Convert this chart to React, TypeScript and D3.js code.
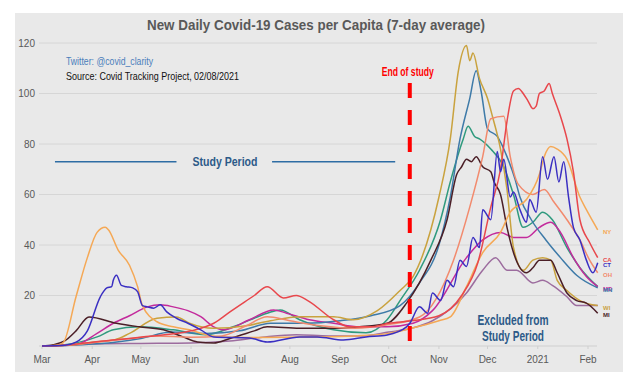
import React from "react";
import * as d3 from "d3";

const W = 640;
const H = 389;

const title = "New Daily Covid-19 Cases per Capita (7-day average)";
const yTicks = [20, 40, 60, 80, 100, 120];
const studyEnd = "2020-10-14";

// values (cases per 100k, 7-day avg)
const ny: [string, number][] = [
  ["2020-03-01", 0], ["2020-03-10", 0.3], ["2020-03-14", 1.2], ["2020-03-22", 19.5], ["2020-03-29", 35],
  ["2020-04-04", 45], ["2020-04-09", 47], ["2020-04-11", 46], ["2020-04-17", 38], ["2020-04-24", 32],
  ["2020-04-29", 23.5], ["2020-05-02", 16], ["2020-05-11", 9.6], ["2020-05-21", 7.6], ["2020-05-31", 6.4],
  ["2020-06-11", 4.4], ["2020-06-21", 3.6], ["2020-07-10", 3.4], ["2020-08-01", 3.5], ["2020-08-20", 3.6],
  ["2020-09-10", 4], ["2020-10-01", 5], ["2020-10-15", 7], ["2020-11-01", 10], ["2020-11-08", 11.5],
  ["2020-11-18", 23.5], ["2020-11-28", 37], ["2020-12-09", 45], ["2020-12-15", 53], ["2020-12-25", 58],
  ["2021-01-02", 68], ["2021-01-05", 75], ["2021-01-09", 79], ["2021-01-13", 78], ["2021-01-19", 74],
  ["2021-01-27", 59], ["2021-01-31", 54], ["2021-02-07", 46],
];
const ca: [string, number][] = [
  ["2020-03-01", 0], ["2020-03-15", 0.3], ["2020-04-01", 1.5], ["2020-05-01", 3.5], ["2020-06-01", 6],
  ["2020-06-15", 9], ["2020-06-25", 13.5], ["2020-07-10", 20], ["2020-07-18", 23.5], ["2020-07-28", 19],
  ["2020-08-05", 20], ["2020-08-12", 18], ["2020-08-28", 10.4], ["2020-09-07", 7.6], ["2020-09-20", 7.6],
  ["2020-10-01", 9], ["2020-10-15", 10], ["2020-11-01", 12], ["2020-11-15", 20], ["2020-11-25", 33],
  ["2020-12-03", 55], ["2020-12-09", 70], ["2020-12-13", 89], ["2020-12-17", 101], ["2020-12-20", 102],
  ["2020-12-23", 100], ["2020-12-26", 97], ["2020-12-29", 94], ["2020-12-31", 95], ["2021-01-02", 100],
  ["2021-01-05", 101], ["2021-01-08", 104], ["2021-01-10", 100], ["2021-01-15", 91], ["2021-01-19", 82],
  ["2021-01-23", 69], ["2021-01-27", 50], ["2021-02-02", 41], ["2021-02-07", 35],
];
const ct: [string, number][] = [
  ["2020-03-01", 0], ["2020-03-15", 0.3], ["2020-03-22", 1.5], ["2020-03-29", 6], ["2020-04-06", 19.5],
  ["2020-04-10", 23], ["2020-04-13", 23.5], ["2020-04-14", 26], ["2020-04-16", 28], ["2020-04-19", 24],
  ["2020-04-22", 23.5], ["2020-04-26", 23], ["2020-04-29", 21.5], ["2020-05-02", 16], ["2020-05-05", 15.5],
  ["2020-05-09", 15], ["2020-05-13", 16.3], ["2020-05-17", 13.5], ["2020-05-23", 11], ["2020-05-30", 9],
  ["2020-06-07", 6.4], ["2020-06-15", 3.6], ["2020-07-07", 3.2], ["2020-07-18", 1.6], ["2020-08-07", 3.6],
  ["2020-08-18", 3.6], ["2020-09-03", 2.4], ["2020-09-17", 3.6], ["2020-09-30", 4.4], ["2020-10-12", 7.6],
  ["2020-10-14", 9], ["2020-10-20", 15.5], ["2020-10-25", 13], ["2020-10-28", 21], ["2020-11-02", 18],
  ["2020-11-06", 26], ["2020-11-10", 23.5], ["2020-11-14", 34], ["2020-11-18", 31.5], ["2020-11-22", 43],
  ["2020-11-26", 39], ["2020-11-28", 54], ["2020-12-03", 50], ["2020-12-07", 77], ["2020-12-09", 69],
  ["2020-12-11", 74], ["2020-12-15", 59], ["2020-12-17", 61], ["2020-12-21", 54], ["2020-12-25", 49],
  ["2020-12-27", 58], ["2020-12-31", 53], ["2021-01-04", 75], ["2021-01-07", 66], ["2021-01-11", 75],
  ["2021-01-14", 65], ["2021-01-17", 73], ["2021-01-20", 59], ["2021-01-23", 47], ["2021-01-27", 42],
  ["2021-01-31", 34], ["2021-02-04", 29], ["2021-02-07", 33],
];
const oh: [string, number][] = [
  ["2020-03-01", 0], ["2020-03-20", 0.5], ["2020-04-10", 2], ["2020-04-25", 3], ["2020-05-10", 4],
  ["2020-06-01", 3.5], ["2020-06-20", 4], ["2020-07-05", 8], ["2020-07-18", 11.6], ["2020-08-01", 10],
  ["2020-08-20", 8], ["2020-09-10", 7], ["2020-10-01", 8.5], ["2020-10-20", 11.5], ["2020-11-10", 34],
  ["2020-11-20", 55], ["2020-11-28", 75], ["2020-12-03", 90], ["2020-12-11", 91], ["2020-12-15", 75],
  ["2020-12-20", 64], ["2020-12-29", 60], ["2021-01-05", 62], ["2021-01-11", 57], ["2021-01-19", 50],
  ["2021-01-27", 42], ["2021-02-02", 34], ["2021-02-07", 29],
];
const mn: [string, number][] = [
  ["2020-03-01", 0], ["2020-03-25", 0.5], ["2020-04-15", 1.5], ["2020-05-01", 3], ["2020-05-20", 5.5],
  ["2020-06-10", 5], ["2020-07-01", 6], ["2020-07-20", 9], ["2020-08-10", 9], ["2020-09-01", 10],
  ["2020-09-20", 12], ["2020-10-08", 16], ["2020-10-20", 25], ["2020-11-01", 40], ["2020-11-08", 59],
  ["2020-11-14", 82], ["2020-11-20", 98], ["2020-11-24", 109], ["2020-11-27", 101], ["2020-12-01", 86],
  ["2020-12-07", 83], ["2020-12-13", 75], ["2020-12-18", 66], ["2020-12-21", 59], ["2020-12-28", 50],
  ["2021-01-06", 42], ["2021-01-15", 35], ["2021-01-25", 28], ["2021-02-07", 23],
];
const il: [string, number][] = [
  ["2020-03-01", 0], ["2020-03-15", 0.5], ["2020-04-04", 3.6], ["2020-04-14", 6.4], ["2020-04-30", 7.6],
  ["2020-05-21", 6.4], ["2020-06-10", 4.5], ["2020-06-27", 7.6], ["2020-07-18", 13], ["2020-07-26", 14.3],
  ["2020-08-07", 10.4], ["2020-08-28", 6.4], ["2020-09-17", 5.2], ["2020-09-30", 10.4], ["2020-10-08", 18],
  ["2020-10-20", 30], ["2020-11-02", 50], ["2020-11-08", 65], ["2020-11-16", 82], ["2020-11-19", 87],
  ["2020-11-23", 83], ["2020-11-26", 82], ["2020-12-03", 78], ["2020-12-11", 71], ["2020-12-17", 60],
  ["2020-12-23", 47], ["2020-12-29", 49], ["2021-01-04", 53], ["2021-01-10", 50], ["2021-01-19", 39],
  ["2021-01-27", 31], ["2021-02-07", 23.5],
];
const md: [string, number][] = [
  ["2020-03-01", 0], ["2020-03-22", 0.5], ["2020-04-04", 5], ["2020-04-14", 9], ["2020-04-24", 12],
  ["2020-05-05", 15.5], ["2020-05-13", 16.3], ["2020-05-21", 15.5], ["2020-05-30", 14], ["2020-06-07", 11.6],
  ["2020-06-15", 7.6], ["2020-06-21", 6.4], ["2020-07-07", 10.4], ["2020-07-22", 14.3], ["2020-07-30", 13],
  ["2020-08-13", 10.4], ["2020-08-28", 9], ["2020-09-13", 7.6], ["2020-09-30", 7.6], ["2020-10-16", 9],
  ["2020-10-28", 14], ["2020-11-18", 35], ["2020-11-28", 42], ["2020-12-09", 45], ["2020-12-17", 43],
  ["2020-12-25", 43], ["2021-01-02", 47], ["2021-01-09", 49], ["2021-01-15", 45], ["2021-01-23", 35],
  ["2021-01-31", 27.5], ["2021-02-07", 23.5],
];
const wi: [string, number][] = [
  ["2020-03-01", 0], ["2020-03-20", 0.5], ["2020-04-01", 1.5], ["2020-04-15", 2.5], ["2020-04-24", 5],
  ["2020-05-11", 11], ["2020-05-23", 11.5], ["2020-05-31", 9], ["2020-06-15", 7], ["2020-07-05", 8],
  ["2020-07-20", 10], ["2020-08-07", 11.6], ["2020-08-28", 11.6], ["2020-09-09", 10.4], ["2020-09-24", 14],
  ["2020-10-08", 22], ["2020-10-16", 27.5], ["2020-11-01", 59], ["2020-11-08", 82], ["2020-11-13", 109],
  ["2020-11-18", 119], ["2020-11-20", 113], ["2020-11-22", 116], ["2020-11-26", 106], ["2020-12-01", 98],
  ["2020-12-04", 91], ["2020-12-09", 78], ["2020-12-13", 62], ["2020-12-17", 39], ["2020-12-23", 30],
  ["2020-12-29", 34], ["2021-01-04", 35], ["2021-01-09", 34], ["2021-01-13", 26], ["2021-01-19", 22],
  ["2021-01-27", 18], ["2021-02-07", 16],
];
const mi: [string, number][] = [
  ["2020-03-01", 0], ["2020-03-08", 0.5], ["2020-03-15", 2], ["2020-03-22", 6], ["2020-03-30", 11.5],
  ["2020-04-16", 9], ["2020-04-30", 7.6], ["2020-05-15", 6.4], ["2020-05-27", 3.6], ["2020-06-05", 1.6],
  ["2020-06-15", 1.2], ["2020-06-25", 3], ["2020-07-10", 6], ["2020-07-18", 7.6], ["2020-08-07", 7],
  ["2020-08-28", 7], ["2020-09-13", 7.6], ["2020-09-30", 9], ["2020-10-12", 17], ["2020-10-27", 34],
  ["2020-11-06", 50], ["2020-11-12", 68], ["2020-11-15", 71], ["2020-11-18", 74], ["2020-11-21", 73],
  ["2020-11-24", 75], ["2020-11-28", 71], ["2020-12-03", 69], ["2020-12-05", 65], ["2020-12-09", 60],
  ["2020-12-13", 47], ["2020-12-17", 37], ["2020-12-25", 29], ["2020-12-29", 31], ["2021-01-02", 34],
  ["2021-01-09", 34], ["2021-01-13", 29], ["2021-01-19", 21], ["2021-01-25", 18], ["2021-01-31", 17],
  ["2021-02-07", 13],
];
const wa: [string, number][] = [
  ["2020-03-01", 0], ["2020-04-01", 0.8], ["2020-05-01", 1], ["2020-06-01", 1.2], ["2020-06-25", 2],
  ["2020-07-15", 3.5], ["2020-08-05", 4.5], ["2020-08-25", 4], ["2020-09-15", 4], ["2020-10-01", 5.5],
  ["2020-10-15", 7], ["2020-10-28", 10], ["2020-11-18", 21], ["2020-11-28", 30], ["2020-12-06", 35],
  ["2020-12-13", 30], ["2020-12-19", 30], ["2020-12-29", 25], ["2021-01-04", 26], ["2021-01-10", 24],
  ["2021-01-19", 19.5], ["2021-01-25", 16], ["2021-02-07", 16],
];

// drawing order: first is at the back
const series = [
  { name: "WA", color: "#9c6c9e", values: wa, label: false },
  { name: "IL", color: "#2f9a7e", values: il, label: false },
  { name: "MD", color: "#c32a9c", values: md, label: true },
  { name: "MN", color: "#3e7aa8", values: mn, label: true },
  { name: "WI", color: "#c9a23e", values: wi, label: true },
  { name: "MI", color: "#4b1f27", values: mi, label: true },
  { name: "OH", color: "#f28a6d", values: oh, label: true },
  { name: "NY", color: "#f5a855", values: ny, label: true },
  { name: "CA", color: "#e8474c", values: ca, label: true },
  { name: "CT", color: "#3a2fc2", values: ct, label: true },
];

const parseDate = d3.timeParse("%Y-%m-%d");
const NARROW = "'Liberation Sans Narrow', 'Arial Narrow', 'Liberation Sans', Arial, sans-serif";

export default function App() {
  const x = d3
    .scaleTime()
    .domain([parseDate("2020-03-01")!, parseDate("2021-02-01")!])
    .range([42, 588]);
  const y = d3.scaleLinear().domain([0, 120]).range([346, 43]);

  const line = d3
    .line<[string, number]>()
    .x((d) => x(parseDate(d[0])!))
    .y((d) => y(d[1]))
    .curve(d3.curveMonotoneX);

  const months = d3.timeMonth.range(parseDate("2020-03-01")!, parseDate("2021-02-02")!);
  const fmt = (d: Date) => (d.getMonth() === 0 ? d3.timeFormat("%Y")(d) : d3.timeFormat("%b")(d));

  const xEnd = x(parseDate(studyEnd)!);
  const studyY = y(73);

  return (
    <svg width={W} height={H} style={{ position: "absolute", left: 0, top: 0 }}>
      <rect width={W} height={H} fill="#ffffff" />
      <rect x={15} y={13} width={608} height={359} fill="#e9e9e9" />

      <text x={316} y={30} textAnchor="middle" fontFamily={NARROW} fontWeight="bold"
        fontSize={15} fill="#595959" textLength={338} lengthAdjust="spacingAndGlyphs">
        {title}
      </text>

      {yTicks.map((t) => (
        <g key={t}>
          <line x1={39} x2={597} y1={y(t)} y2={y(t)} stroke="#d6d6d6" strokeWidth={1} />
          <text x={35} y={y(t) + 3.5} textAnchor="end" fontFamily={NARROW} fontSize={10} fill="#595959">
            {t}
          </text>
        </g>
      ))}
      <line x1={39} x2={597} y1={y(0)} y2={y(0)} stroke="#cfcfcf" strokeWidth={1} />
      {months.map((m) => (
        <g key={m.toISOString()}>
          <line x1={x(m)} x2={x(m)} y1={y(0)} y2={y(0) + 3} stroke="#cfcfcf" />
          <text x={x(m)} y={363} textAnchor="middle" fontFamily={NARROW} fontSize={10} fill="#595959">
            {fmt(m)}
          </text>
        </g>
      ))}

      <text x={66} y={65} fontFamily={NARROW} fontSize={10.5} fill="#4a7ebb" textLength={87}
        lengthAdjust="spacingAndGlyphs">
        Twitter: @covid_clarity
      </text>
      <text x={66} y={80} fontFamily={NARROW} fontSize={10.5} fill="#111111" textLength={173}
        lengthAdjust="spacingAndGlyphs">
        Source: Covid Tracking Project, 02/08/2021
      </text>

      {/* study period marker */}
      <line x1={x(parseDate("2020-03-09")!)} x2={x(parseDate("2020-05-23")!)} y1={studyY} y2={studyY}
        stroke="#2e6da4" strokeWidth={1.6} />
      <line x1={x(parseDate("2020-07-21")!)} x2={x(parseDate("2020-10-05")!)} y1={studyY} y2={studyY}
        stroke="#2e6da4" strokeWidth={1.6} />
      <text x={225} y={studyY + 4.5} textAnchor="middle" fontFamily={NARROW} fontWeight="bold"
        fontSize={13} fill="#2c5a88" textLength={65} lengthAdjust="spacingAndGlyphs">
        Study Period
      </text>

      {series.map((s) => (
        <path key={s.name} d={line(s.values) || ""} fill="none" stroke={s.color} strokeWidth={1.5}
          strokeLinejoin="round" />
      ))}

      <line x1={xEnd} x2={xEnd} y1={83} y2={y(0)} stroke="#ff0000" strokeWidth={4} strokeDasharray="15,12" />
      <text x={xEnd - 2} y={76} textAnchor="middle" fontFamily={NARROW} fontWeight="bold" fontSize={12}
        fill="#ff0000" textLength={52} lengthAdjust="spacingAndGlyphs">
        End of study
      </text>

      <text x={513} y={325} textAnchor="middle" fontFamily={NARROW} fontWeight="bold" fontSize={14}
        fill="#2c5a88" textLength={71} lengthAdjust="spacingAndGlyphs">
        Excluded from
      </text>
      <text x={513} y={341} textAnchor="middle" fontFamily={NARROW} fontWeight="bold" fontSize={14}
        fill="#2c5a88" textLength={62} lengthAdjust="spacingAndGlyphs">
        Study Period
      </text>

      {series
        .filter((s) => s.label)
        .map((s) => {
          const last = s.values[s.values.length - 1];
          return (
            <text key={s.name} x={603} y={y(last[1]) + 4} fontFamily={NARROW} fontWeight="bold"
              fontSize={6} fill={s.color}>
              {s.name}
            </text>
          );
        })}
    </svg>
  );
}
